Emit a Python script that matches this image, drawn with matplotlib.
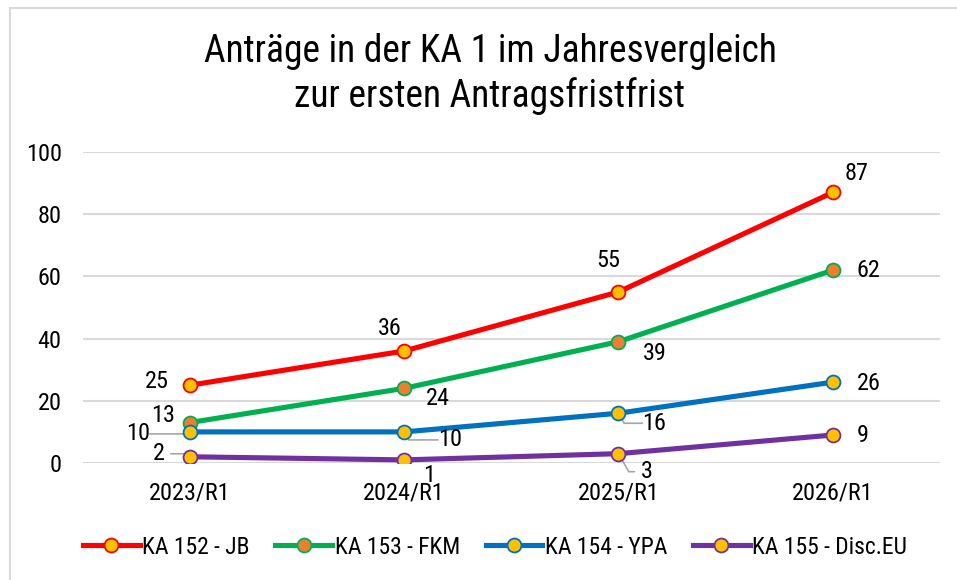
import matplotlib
matplotlib.use("Agg")
import matplotlib.pyplot as plt
from matplotlib import font_manager
from matplotlib.patches import Rectangle

# Daten
kategorien = ["2023/R1", "2024/R1", "2025/R1", "2026/R1"]
ka152_jb = [25, 36, 55, 87]
ka153_fkm = [13, 24, 39, 62]
ka154_ypa = [10, 10, 16, 26]
ka155_disc = [2, 1, 3, 9]
namen = ["KA 152 - JB", "KA 153 - FKM", "KA 154 - YPA", "KA 155 - Disc.EU"]

# schmale Schrift, falls vorhanden
vorhanden = set(f.name for f in font_manager.fontManager.ttflist)
schrift = "Roboto"
for kand in ["Roboto Condensed", "Liberation Sans Narrow", "Roboto"]:
    if kand in vorhanden:
        schrift = kand
        break
plt.rcParams["font.family"] = [schrift, "DejaVu Sans"]

fig = plt.figure(figsize=(9.57, 5.80), dpi=100)
ax = fig.add_axes([82.5/957, 117/580, (940-82.5)/957, 311/580])

# Rahmen um das Diagramm
fig.patches.append(Rectangle((10/957, -0.1), 1.2, (580-8)/580 + 0.1, transform=fig.transFigure,
                             fill=False, edgecolor="#D9D9D9", linewidth=1.5))

x = list(range(len(kategorien)))
reihen = [
    (ka152_jb, "#FF0000", "#FFC000"),
    (ka153_fkm, "#00B050", "#ED7D31"),
    (ka154_ypa, "#0070C0", "#FFC000"),
    (ka155_disc, "#7030A0", "#FFC000"),
]
for (werte, farbe, fuell), name in zip(reihen, namen):
    ax.plot(x, werte, "-o", color=farbe, linewidth=3.7, markersize=10,
            markerfacecolor=fuell, markeredgecolor=farbe, markeredgewidth=1.3,
            label=name, zorder=3)

# Beschriftungen: Versatz in Pixel (dx, dy), ggf. mit Fuehrungslinie
def px(v):
    return v * 0.72

beschr = [
    (ka152_jb, [(-33, 4), (-14, 23), (-10, 31), (24, 19)]),
    (ka153_fkm, [(-27, 7), (34, -10), (36, -12), (36, 0)]),
    (ka154_ypa, [(-52, -2), (46, -8), (36, -10), (36, -1)]),
    (ka155_disc, [(-31, 3), (25, -16), (28, -18), (30, 0)]),
]
fuehrung = {(2, 0), (2, 1), (2, 2), (3, 0), (3, 2)}
for r, (werte, offs) in enumerate(beschr):
    for i, (dx, dy) in enumerate(offs):
        ax.annotate(str(werte[i]), (x[i], werte[i]), xytext=(px(dx), px(dy)),
                    textcoords="offset points", ha="center", va="center",
                    fontsize=17.5, color="black", zorder=5)
        if (r, i) in fuehrung:
            richtung = -1 if dx < 0 else 1
            ende = dx - richtung * 12
            ax.annotate("", (x[i], werte[i]), xytext=(px(ende), px(dy)),
                        textcoords="offset points",
                        arrowprops=dict(arrowstyle="-", color="#A6A6A6", lw=1.2,
                                        shrinkA=0, shrinkB=2,
                                        connectionstyle="angle,angleA=0,angleB=%d" % (45 if richtung < 0 else -60)),
                        zorder=2)

ax.set_xlim(-0.5, 3.5)
ax.set_ylim(0, 100)
ax.set_yticks(range(0, 101, 20))
ax.set_xticks(x)
ax.set_xticklabels(kategorien)
ax.tick_params(length=0, labelsize=17.5)
ax.tick_params(axis="x", pad=13)
ax.tick_params(axis="y", pad=15)
for s in ax.spines.values():
    s.set_visible(False)
ax.grid(axis="y", color="#D9D9D9", linewidth=1.5)
ax.set_axisbelow(True)

fig.text(490/957, 1 - 74/580, "Anträge in der KA 1 im Jahresvergleich\nzur ersten Antragsfristfrist",
         ha="center", va="center", fontsize=27, linespacing=1.22)

fig.legend(loc="center", bbox_to_anchor=(495/957, 1 - 547/580), ncol=4, frameon=False,
           fontsize=17, handlelength=2.4, columnspacing=1.1, handletextpad=0.1)

fig.savefig("out.png", dpi=100)
